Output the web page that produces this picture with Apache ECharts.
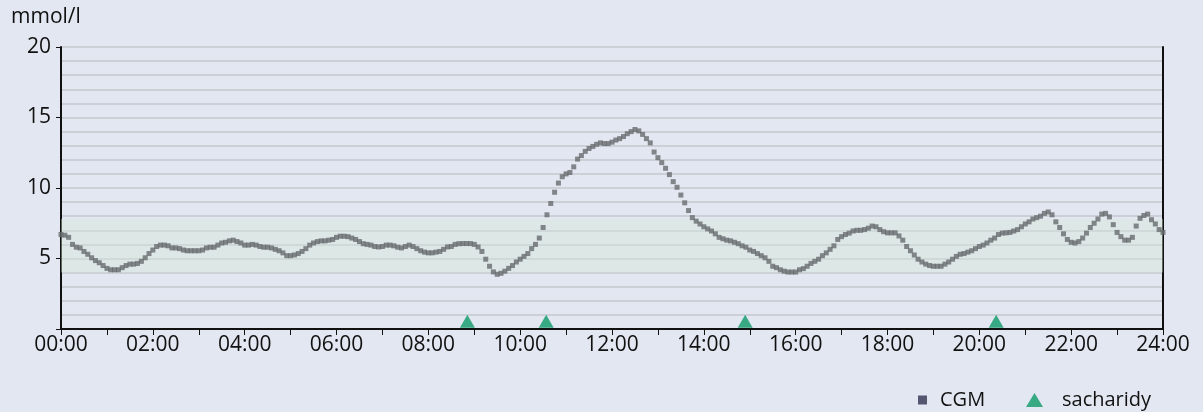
<!DOCTYPE html>
<html>
<head>
<meta charset="utf-8">
<script src="https://cdn.jsdelivr.net/npm/echarts@6/dist/echarts.min.js"></script>
<style>
html,body{margin:0;padding:0;background:#e3e7f1;}
#c{width:1203px;height:412px;}
</style>
</head>
<body>
<div id="c"></div>
<script>
// CGM readings every 5 minutes from 00:00 to 24:00 (mmol/l)
const cgmStepMinutes = 5;
const cgm = [
  6.7, 6.65, 6.5, 6.0, 5.8, 5.75, 5.5, 5.3, 5.05, 4.85, 4.7, 4.5,
  4.3, 4.2, 4.2, 4.2, 4.35, 4.5, 4.6, 4.6, 4.65, 4.8, 5.05, 5.35,
  5.6, 5.85, 5.95, 5.95, 5.9, 5.75, 5.75, 5.7, 5.6, 5.55, 5.55, 5.55,
  5.55, 5.6, 5.75, 5.8, 5.8, 5.95, 6.1, 6.15, 6.25, 6.3, 6.2, 6.1,
  5.95, 5.95, 6.0, 5.95, 5.85, 5.8, 5.8, 5.75, 5.65, 5.55, 5.4, 5.2,
  5.2, 5.25, 5.35, 5.5, 5.7, 5.95, 6.1, 6.2, 6.25, 6.25, 6.3, 6.35,
  6.5, 6.58, 6.58, 6.55, 6.45, 6.35, 6.2, 6.05, 6.0, 5.95, 5.85, 5.82,
  5.85, 5.95, 5.95, 5.9, 5.8, 5.75, 5.85, 5.95, 5.85, 5.7, 5.55, 5.45,
  5.4, 5.4, 5.45, 5.5, 5.65, 5.82, 5.85, 6.0, 6.05, 6.06, 6.06, 6.06,
  6.0, 5.82, 5.5, 4.95, 4.45, 4.05, 3.88, 3.95, 4.1, 4.3, 4.5, 4.75,
  4.95, 5.15, 5.35, 5.7, 6.0, 6.45, 7.2, 8.1, 8.9, 9.7, 10.35, 10.8,
  11.0, 11.1, 11.5, 12.05, 12.3, 12.6, 12.8, 12.95, 13.1, 13.2, 13.15, 13.15,
  13.25, 13.4, 13.5, 13.65, 13.85, 14.0, 14.15, 14.05, 13.8, 13.5, 13.2, 12.55,
  12.15, 11.8, 11.4, 10.95, 10.45, 10.05, 9.5, 8.95, 8.4, 7.9, 7.65, 7.45,
  7.25, 7.1, 6.95, 6.75, 6.5, 6.4, 6.3, 6.25, 6.15, 6.05, 5.9, 5.8,
  5.6, 5.5, 5.35, 5.2, 5.05, 4.8, 4.45, 4.35, 4.2, 4.1, 4.04, 4.04,
  4.04, 4.2, 4.28, 4.45, 4.65, 4.8, 4.95, 5.2, 5.4, 5.65, 5.9, 6.35,
  6.55, 6.7, 6.8, 6.95, 7.0, 7.0, 7.05, 7.15, 7.3, 7.25, 7.05, 6.9,
  6.82, 6.82, 6.82, 6.6, 6.3, 5.85, 5.55, 5.25, 4.95, 4.75, 4.6, 4.5,
  4.45, 4.45, 4.45, 4.6, 4.75, 4.95, 5.15, 5.3, 5.35, 5.45, 5.55, 5.7,
  5.85, 5.95, 6.1, 6.3, 6.45, 6.7, 6.8, 6.82, 6.85, 6.95, 7.05, 7.25,
  7.45, 7.6, 7.8, 7.9, 8.0, 8.2, 8.3, 8.1, 7.6, 7.2, 6.75, 6.35,
  6.15, 6.1, 6.2, 6.45, 6.8, 7.2, 7.5, 7.8, 8.15, 8.2, 7.95, 7.4,
  6.85, 6.55, 6.3, 6.3, 6.5, 7.3, 7.85, 8.05, 8.15, 7.75, 7.45, 7.05,
  6.85
];
// carbohydrate intake events (sacharidy)
const carbTimes = ['08:51', '10:34', '14:54', '20:22'];
const carbMarkerValue = 0.55;
// target range band
const rangeLow = 4;
const rangeHigh = 7.8;
// axis settings
const yMax = 20;
const xLabelStepHours = 2;

function toMin(s){const p=s.split(':');return (+p[0])*60+(+p[1]);}
const cgmData = cgm.map((v,i)=>[i*cgmStepMinutes, v]);
const carbData = carbTimes.map(t=>[toMin(t), carbMarkerValue]);

const FONT = '"Open Sans", "Noto Sans", sans-serif';
const FS = 21;
const chart = echarts.init(document.getElementById('c'), null, {renderer:'canvas'});
chart.setOption({
  backgroundColor:'#e3e7f1',
  animation:false,
  textStyle:{fontFamily:FONT},
  title:{text:'mmol/l', left:6, top:2, textStyle:{fontFamily:FONT, fontSize:FS, fontWeight:'normal', color:'#111'}},
  grid:{left:61, right:40, top:47, bottom:83, containLabel:false},
  legend:[
    {data:[{name:'CGM', icon:'rect', itemStyle:{color:'#2f3252'}}], itemWidth:9, itemHeight:9, itemGap:10,
     left:913, top:385, textStyle:{fontFamily:FONT, fontSize:FS-1, color:'#111', padding:[0,0,0,8]}},
    {data:[{name:'sacharidy', icon:'triangle', itemStyle:{color:'#0b9a68'}}], itemWidth:17, itemHeight:14,
     left:1021, top:385, textStyle:{fontFamily:FONT, fontSize:FS-1, color:'#111', padding:[0,0,0,14]}}
  ],
  xAxis:{type:'value', min:0, max:1440, interval:60,
    axisLine:{show:true, onZero:false, lineStyle:{color:'#111', width:2}},
    axisTick:{show:true, length:6, inside:false, lineStyle:{color:'#111', width:1}},
    splitLine:{show:false},
    axisLabel:{fontFamily:FONT, fontSize:FS, color:'#111', margin:6,
      formatter:function(v){ if(v % (xLabelStepHours*60) !== 0) return ''; const h=v/60; return (h<10?'0':'')+h+':00'; }}
  },
  yAxis:[
    {type:'value', min:0, max:yMax, interval:5,
     axisLine:{show:true, lineStyle:{color:'#111', width:2}},
     axisTick:{show:true, length:5, lineStyle:{color:'#111', width:1}},
     axisLabel:{fontFamily:FONT, fontSize:FS, color:'#111', margin:10, formatter:function(v){return v===0?'':String(v);}},
     splitLine:{show:true, lineStyle:{color:'#c6c8ce', width:1.5}},
     minorTick:{show:false, splitNumber:5},
     minorSplitLine:{show:true, lineStyle:{color:'#c6c8ce', width:1.5}}
    },
    {type:'value', min:0, max:yMax, position:'right',
     axisLine:{show:true, lineStyle:{color:'#111', width:2}},
     axisTick:{show:false}, axisLabel:{show:false}, splitLine:{show:false}}
  ],
  series:[
    {name:'range', type:'line', data:[], silent:true,
     markArea:{silent:true, itemStyle:{color:'rgba(210,232,215,0.4)'},
       data:[[{yAxis:rangeLow},{yAxis:rangeHigh}]]}},
    {name:'CGM', type:'scatter', data:cgmData, symbol:'rect', symbolSize:5,
     itemStyle:{color:'#686b6e'}, z:3},
    {name:'sacharidy', type:'scatter', data:carbData, symbol:'triangle', symbolSize:[15,13],
     itemStyle:{color:'#0b9a68'}, z:4}
  ]
});
</script>
</body>
</html>
